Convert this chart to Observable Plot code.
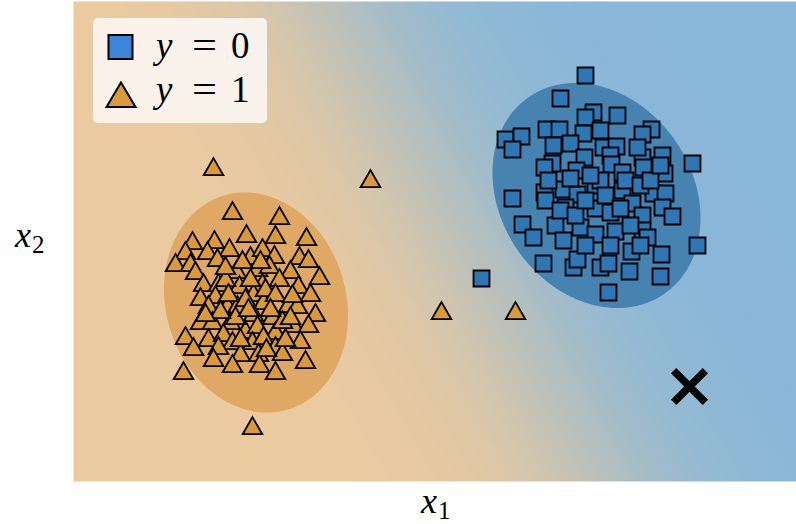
<!DOCTYPE html>
<html>
<head>
<meta charset="utf-8">
<script src="https://cdn.jsdelivr.net/npm/d3@7"></script>
<script src="https://cdn.jsdelivr.net/npm/@observablehq/plot@0.6"></script>
<style>
  html, body { margin: 0; padding: 0; background: #ffffff; }
  #chart { position: relative; width: 796px; height: 524px; }
  #chart svg { display: block; }
  #overlay { position: absolute; left: 0; top: 0; pointer-events: none; }
  #overlay text { font-family: "Liberation Serif", serif; fill: black; }
</style>
</head>
<body>
<div id="chart">
  <svg id="overlay" width="796" height="524" xmlns="http://www.w3.org/2000/svg"></svg>
</div>
<script>
// Class y = 1 samples (triangles), coordinates [x1, x2]
const class1 = [
  [15.9,26.8],[20.6,26.3],[17.3,24.5],[20.2,24.4],[23.3,24.2],[11.9,23.8],[14.1,23.9],[15.6,23.1],
  [11.2,22.8],[13.4,22.8],[10.2,21.6],[11.7,21.6],[14.4,22.1],[17.7,22.3],[18.9,23.1],[20.1,22.4],
  [22.6,22.3],[23.5,22.0],[12.2,20.8],[16.3,20.9],[18.4,21.1],[19.6,21.4],[21.7,20.9],[24.6,20.3],
  [13.0,19.6],[14.5,19.6],[16.6,19.4],[18.9,19.6],[20.6,20.1],[22.5,19.4],[12.7,18.2],[14.2,18.4],
  [18.0,18.6],[19.0,17.8],[21.5,17.5],[23.7,18.6],[13.5,17.4],[15.4,17.4],[16.4,17.4],[22.4,17.4],
  [18.0,16.6],[19.9,16.3],[24.2,16.6],[12.7,15.8],[13.9,15.8],[15.7,15.8],[17.2,14.9],[18.4,15.4],
  [20.2,14.8],[22.0,15.5],[23.5,15.5],[11.2,14.3],[13.5,14.1],[15.0,14.6],[15.9,13.8],[17.9,13.8],
  [19.0,14.3],[20.2,13.3],[22.7,13.9],[12.0,13.2],[14.5,13.3],[16.7,12.6],[18.5,12.6],[20.9,12.7],
  [14.0,12.1],[15.9,11.5],[18.6,11.5],[23.2,11.9],[20.2,10.8],[11.0,10.8],[17.9,5.3],
  [15.2,20.1],[17.2,18.1],[19.2,19.1],[16.2,16.3],[17.7,20.1],[20.2,18.6],[20.9,15.9],[14.7,16.9],
  [19.7,17.1],[16.7,14.1],[21.2,14.1],[15.5,18.6],[21.7,16.3],[13.2,16.6],[18.7,21.9],[16.9,21.9],
  [15.2,21.3],[19.3,13.1],[17.5,17.1],[21.9,18.5],
  [14.0,31.2],[29.7,30.0],[36.8,16.8],[44.2,16.8]
];

// Class y = 0 samples (squares), coordinates [x1, x2]
const class0 = [
  [51.2,40.6],[48.7,38.3],[52.0,36.9],[51.2,36.4],[54.4,36.6],[43.2,34.2],[44.8,34.5],[43.9,33.2],
  [47.3,35.2],[48.6,35.2],[51.0,34.8],[49.7,33.8],[57.8,35.2],[56.9,34.7],[53.0,33.4],[54.3,33.5],
  [53.7,32.6],[56.9,32.4],[58.9,32.6],[51.1,32.4],[47.9,31.8],[47.1,31.4],[61.9,31.8],[50.3,31.1],
  [53.8,31.7],[54.9,30.9],[57.0,31.4],[59.1,30.8],[52.2,29.6],[49.0,29.2],[50.4,28.7],[47.1,28.9],
  [47.2,28.1],[54.9,29.1],[58.0,28.8],[59.2,28.8],[55.9,27.8],[58.9,27.4],[59.9,26.5],[43.9,28.3],
  [52.2,27.3],[53.7,26.9],[49.2,27.4],[56.9,26.6],[44.9,25.7],[46.0,24.4],[48.2,25.6],[49.0,24.1],
  [50.7,25.4],[52.2,24.7],[54.2,25.0],[56.9,25.1],[57.4,24.4],[55.8,23.0],[58.8,22.7],[62.4,23.6],
  [47.0,21.8],[50.0,21.4],[50.4,22.2],[52.7,21.4],[53.5,21.8],[55.6,21.0],[58.7,20.5],[53.5,18.9],
  [52.7,30.1],[51.7,30.6],[53.2,28.6],[55.2,30.1],[49.7,30.3],[48.7,27.1],[50.2,26.6],[51.2,23.6],
  [55.7,25.6],[54.7,27.3],[56.7,29.6],[57.7,30.1],[51.2,28.1],[47.5,30.1],[56.7,23.6],[53.7,23.6],
  [48.0,33.6],[56.4,33.4],[52.7,35.1],[58.7,31.6],
  [40.8,20.3]
];

// New point to classify
const query = [[61.6, 9.5]];

// Fitted class Gaussians: mean and covariance (drawn as one-sigma ellipses)
const gauss0 = { mean: [52.3, 28.6], cov: [[108.2, -23.6], [-23.6, 126.6]] };
const gauss1 = { mean: [18.25, 17.9], cov: [[84.6, -12.1], [-12.1, 121.0]] };

// Logistic decision field P(y = 0 | x): weights on x1, x2 and bias
const weights = [0.1744, 0.0978];
const bias = -9.19;

const xDomain = [0, 72.3];
const yDomain = [0, 48];

const colors = {
  bg1: "#ecca9f",
  bg0: "#89b7d9",
  ell1: "#e0a865",
  ell0: "#4783b1",
  dot1: "#da9a3a",
  dot0: "#2e77b4",
  key1: "#d99a3a",
  key0: "#3d85d6"
};

// Outline of a covariance ellipse, via the Cholesky factor of the covariance
function ellipse({mean, cov}, n = 160) {
  const a = Math.sqrt(cov[0][0]);
  const b = cov[1][0] / a;
  const c = Math.sqrt(cov[1][1] - b * b);
  return d3.range(n).map(i => {
    const t = (2 * Math.PI * i) / n;
    const u = Math.cos(t), v = Math.sin(t);
    return [mean[0] + a * u, mean[1] + b * u + c * v];
  });
}

const sigmoid = z => 1 / (1 + Math.exp(-z));

const chart = Plot.plot({
  width: 796,
  height: 524,
  marginLeft: 73,
  marginRight: 0,
  marginTop: 1,
  marginBottom: 43,
  x: { domain: xDomain, axis: null },
  y: { domain: yDomain, axis: null },
  color: { type: "linear", domain: [0, 1], range: [colors.bg1, colors.bg0], interpolate: "rgb" },
  marks: [
    Plot.raster({
      fill: (x, y) => sigmoid(weights[0] * x + weights[1] * y + bias),
      x1: xDomain[0], x2: xDomain[1], y1: yDomain[0], y2: yDomain[1],
      pixelSize: 1,
      imageRendering: "auto"
    }),
    Plot.line(ellipse(gauss1), { x: d => d[0], y: d => d[1], curve: "linear-closed", fill: colors.ell1, stroke: "none" }),
    Plot.line(ellipse(gauss0), { x: d => d[0], y: d => d[1], curve: "linear-closed", fill: colors.ell0, stroke: "none" }),
    Plot.dot(class1, { x: d => d[0], y: d => d[1], symbol: "triangle", r: 7.3, fill: colors.dot1, stroke: "black", strokeWidth: 1.8 }),
    Plot.dot(class0, { x: d => d[0], y: d => d[1], symbol: "square", r: 9, fill: colors.dot0, stroke: "black", strokeWidth: 1.8 }),
    Plot.dot(query, { x: d => d[0], y: d => d[1], symbol: "times", r: 14.5, stroke: "black", strokeWidth: 7.5 })
  ]
});

const holder = document.getElementById("chart");
holder.insertBefore(chart, holder.firstChild);

// Axis labels and legend, set like LaTeX math, in a layer over the plot
const overlay = d3.select("#overlay");

function mathLabel(x, y, base, sub) {
  const t = overlay.append("text").attr("x", x).attr("y", y).attr("font-size", 36);
  t.append("tspan").attr("font-style", "italic").text(base);
  t.append("tspan").attr("font-size", 25).attr("dx", 1).attr("dy", 6).text(sub);
}
mathLabel(421, 513, "x", "1");
mathLabel(15, 247, "x", "2");

const key = overlay.append("g");
key.append("rect")
  .attr("x", 93).attr("y", 18).attr("width", 174).attr("height", 105).attr("rx", 5)
  .attr("fill", "white").attr("fill-opacity", 0.78);
key.append("rect")
  .attr("x", 108.5).attr("y", 35).attr("width", 24).attr("height", 24)
  .attr("fill", colors.key0).attr("stroke", "black").attr("stroke-width", 2);
key.append("path")
  .attr("d", "M121,82.5 L135.5,107 L106.5,107 Z")
  .attr("fill", colors.key1).attr("stroke", "black").attr("stroke-width", 2);

const entries = [["0", 58], ["1", 101.5]];
for (const [val, base] of entries) {
  key.append("text").attr("x", 156).attr("y", base).attr("font-size", 37).attr("font-style", "italic").text("y");
  key.append("text").attr("x", 192).attr("y", base).attr("font-size", 37)
    .attr("textLength", 25).attr("lengthAdjust", "spacingAndGlyphs").text("=");
  key.append("text").attr("x", 231).attr("y", base).attr("font-size", 37).text(val);
}
</script>
</body>
</html>
